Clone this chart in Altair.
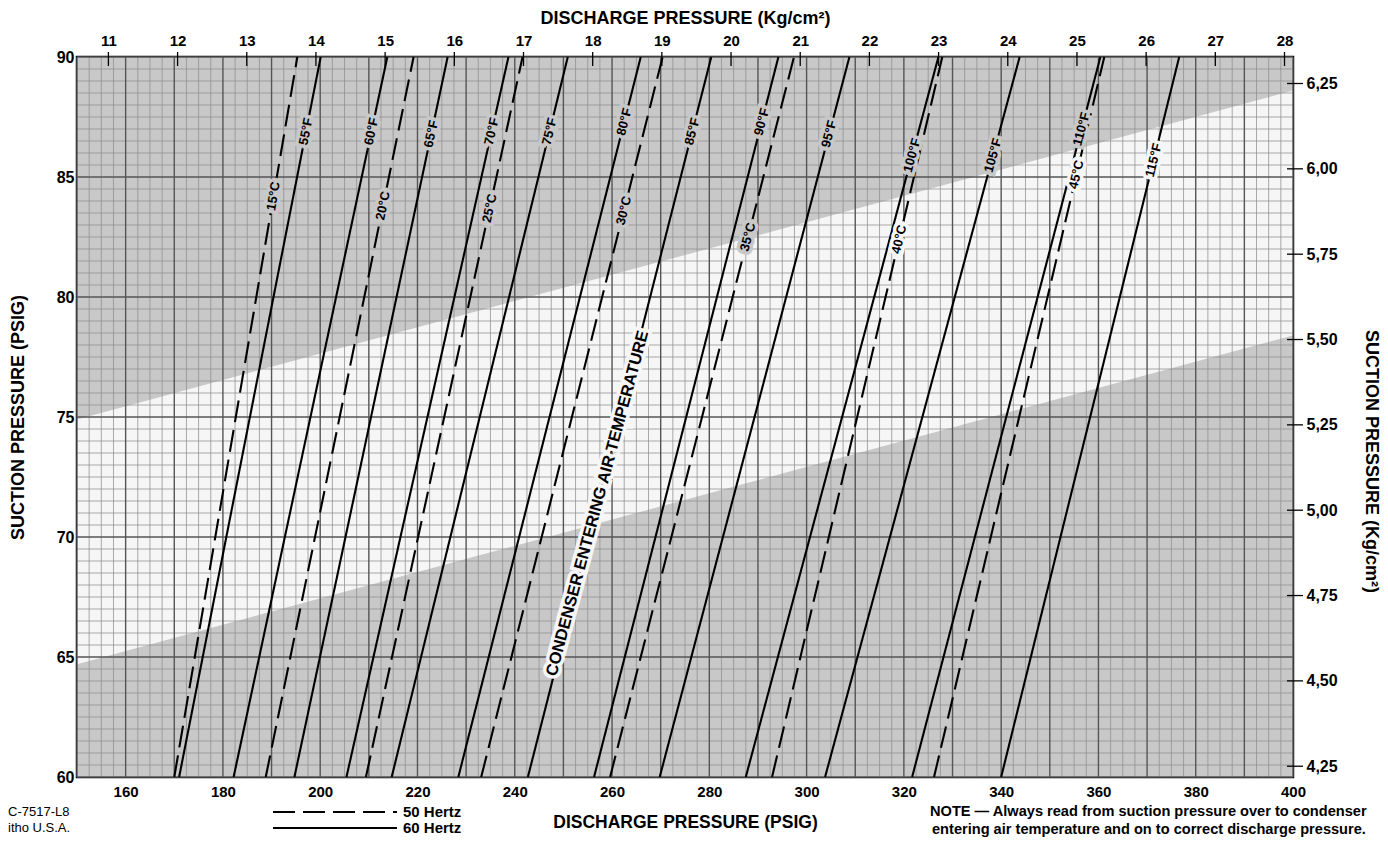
import math
import altair as alt
import numpy as np
import pandas as pd

# ---------------- data ----------------
LINE_NAMES = ["15°C", "55°F", "60°F", "20°C", "65°F", "70°F", "25°C", "75°F", "80°F", "30°C",
              "85°F", "90°F", "35°C", "95°F", "100°F", "40°C", "105°F", "110°F", "45°C", "115°F"]
LINE_HERTZ = ["50 Hertz", "60 Hertz", "60 Hertz", "50 Hertz", "60 Hertz", "60 Hertz", "50 Hertz",
              "60 Hertz", "60 Hertz", "50 Hertz", "60 Hertz", "60 Hertz", "50 Hertz", "60 Hertz",
              "60 Hertz", "50 Hertz", "60 Hertz", "60 Hertz", "50 Hertz", "60 Hertz"]
# discharge pressure (PSIG) where each line meets suction 60 and suction 90 PSIG
DISCHARGE_AT_60 = [170.0, 171.0, 182.2, 188.8, 194.7, 205.4, 209.4, 214.7, 228.4, 233.1,
                   242.7, 256.3, 259.6, 269.8, 287.5, 292.9, 303.8, 321.7, 326.2, 340.0]
DISCHARGE_AT_90 = [195.3, 200.1, 213.8, 219.2, 226.2, 238.7, 241.6, 250.9, 265.9, 270.4,
                   280.4, 294.2, 297.4, 308.8, 327.1, 327.9, 343.8, 360.4, 361.2, 376.6]
SUCTION_ENDS = [60, 90]
# suction level at which each line carries its label
LABEL_SUCTION = [84.2, 86.9, 86.9, 83.8, 86.8, 86.9, 83.7, 86.9, 87.3, 83.6,
                 86.9, 87.3, 82.5, 86.8, 85.9, 82.4, 85.9, 87.0, 85.1, 85.7]

CONDENSER_TEXT = "CONDENSER ENTERING AIR TEMPERATURE"
CONDENSER_AT = [257.0, 71.4]   # discharge, suction

# white (unshaded) diagonal band
BAND_DISCHARGE = [150, 400]
BAND_LOWER = [64.7, 78.4]
BAND_UPPER = [74.9, 88.6]

X_DOMAIN = [150, 400]
Y_DOMAIN = [60, 90]
X_LABELS = list(range(160, 401, 20))
Y_LABELS = list(range(60, 91, 5))
KG_TOP = list(range(11, 29))
KG_RIGHT = [4.25, 4.50, 4.75, 5.00, 5.25, 5.50, 5.75, 6.00, 6.25]
PSI_PER_KG = 14.2233

# ---------------- layout / style ----------------
W, H = 1216, 720
PX_X = W / (X_DOMAIN[1] - X_DOMAIN[0])
PX_Y = H / (Y_DOMAIN[1] - Y_DOMAIN[0])
GRAY = "#c8c8c8"
WHITE = "#f6f6f6"
FONT = "Liberation Sans"
DASH = [22, 8]

xs = alt.Scale(domain=X_DOMAIN, nice=False, zero=False)
ys = alt.Scale(domain=Y_DOMAIN, nice=False, zero=False)

# ---------------- tables ----------------
bg_df = pd.DataFrame({"x0": [X_DOMAIN[0]], "x1": [X_DOMAIN[1]],
                      "y0": [Y_DOMAIN[0]], "y1": [Y_DOMAIN[1]]})
band_df = pd.DataFrame({"x": BAND_DISCHARGE, "lo": BAND_LOWER, "hi": BAND_UPPER})

rows = []
for name, hz, d0, d1 in zip(LINE_NAMES, LINE_HERTZ, DISCHARGE_AT_60, DISCHARGE_AT_90):
    rows.append({"name": name, "hz": hz, "suction": SUCTION_ENDS[0], "discharge": d0})
    rows.append({"name": name, "hz": hz, "suction": SUCTION_ENDS[1], "discharge": d1})
lines_df = pd.DataFrame(rows)


def band_edge(edge, x):
    return np.interp(x, BAND_DISCHARGE, edge)


lab_rows = []
for name, d0, d1, s in zip(LINE_NAMES, DISCHARGE_AT_60, DISCHARGE_AT_90, LABEL_SUCTION):
    t = (s - SUCTION_ENDS[0]) / (SUCTION_ENDS[1] - SUCTION_ENDS[0])
    d = d0 + (d1 - d0) * t
    ang = -math.degrees(math.atan2(H, (d1 - d0) * PX_X)) + 360
    in_band = band_edge(BAND_LOWER, d) < s < band_edge(BAND_UPPER, d)
    lab_rows.append({"name": name, "discharge": d, "suction": s, "angle": ang,
                     "halo": WHITE if in_band else GRAY})
labels_df = pd.DataFrame(lab_rows)
cond_df = pd.DataFrame({"text": [CONDENSER_TEXT], "discharge": [CONDENSER_AT[0]],
                        "suction": [CONDENSER_AT[1]]})

vgrid = pd.DataFrame({"x": np.arange(X_DOMAIN[0], X_DOMAIN[1] + 0.01, 2.5)})
vgrid["major"] = (vgrid["x"] % 10 == 0)
hgrid = pd.DataFrame({"y": np.arange(Y_DOMAIN[0], Y_DOMAIN[1] + 0.01, 0.5)})
hgrid["major"] = (hgrid["y"] % 5 == 0)

top_df = pd.DataFrame({"kg": KG_TOP})
right_df = pd.DataFrame({"kg": KG_RIGHT})

# ---------------- layers ----------------
label_font = dict(font=FONT, fontWeight="bold")

background = alt.Chart(bg_df).mark_rect(color=GRAY).encode(
    x=alt.X("x0:Q", scale=xs, axis=alt.Axis(
        orient="bottom", values=X_LABELS, ticks=False, domain=False, grid=False,
        labelFontSize=15, labelPadding=7, labelFlush=False,
        title="DISCHARGE PRESSURE (PSIG)", titleFontSize=17.5, titleY=45,
        titleBaseline="middle")),
    x2="x1:Q",
    y=alt.Y("y0:Q", scale=ys, axis=alt.Axis(
        orient="left", values=Y_LABELS, ticks=False, domain=False, grid=False,
        labelFontSize=16, labelPadding=3, labelFlush=False,
        title="SUCTION PRESSURE (PSIG)", titleFontSize=18, titleX=-59,
        titleBaseline="middle")),
    y2="y1:Q",
)

band = alt.Chart(band_df).mark_area(color=WHITE, opacity=1).encode(
    x=alt.X("x:Q", scale=xs, axis=None),
    y=alt.Y("lo:Q", scale=ys, axis=None),
    y2="hi:Q",
)

vminor = alt.Chart(vgrid).transform_filter("!datum.major").mark_rule(
    color="#8e8e8e", strokeWidth=0.75).encode(x=alt.X("x:Q", scale=xs, axis=None))
vmajor = alt.Chart(vgrid).transform_filter("datum.major").mark_rule(
    color="#555555", strokeWidth=1.4).encode(x=alt.X("x:Q", scale=xs, axis=None))
hminor = alt.Chart(hgrid).transform_filter("!datum.major").mark_rule(
    color="#8e8e8e", strokeWidth=0.75).encode(y=alt.Y("y:Q", scale=ys, axis=None))
hmajor = alt.Chart(hgrid).transform_filter("datum.major").mark_rule(
    color="#555555", strokeWidth=1.4).encode(y=alt.Y("y:Q", scale=ys, axis=None))

curves = alt.Chart(lines_df).mark_line(color="black", strokeWidth=2.1).encode(
    x=alt.X("discharge:Q", scale=xs, axis=None),
    y=alt.Y("suction:Q", scale=ys, axis=None),
    detail="name:N",
    order="suction:Q",
    strokeDash=alt.StrokeDash("hz:N", scale=alt.Scale(domain=["50 Hertz", "60 Hertz"],
                                                      range=[DASH, [1, 0]]), legend=None),
)

halo = alt.Chart(labels_df).mark_text(fontSize=13, strokeWidth=7, **label_font).encode(
    x=alt.X("discharge:Q", scale=xs, axis=None),
    y=alt.Y("suction:Q", scale=ys, axis=None),
    text="name:N",
    angle=alt.Angle("angle:Q", scale=None),
    color=alt.Color("halo:N", scale=None),
    stroke=alt.Stroke("halo:N", scale=None),
)
temp_text = alt.Chart(labels_df).mark_text(fontSize=13, color="black", **label_font).encode(
    x=alt.X("discharge:Q", scale=xs, axis=None),
    y=alt.Y("suction:Q", scale=ys, axis=None),
    text="name:N",
    angle=alt.Angle("angle:Q", scale=None),
)

cond_halo = alt.Chart(cond_df).mark_text(fontSize=16.5, angle=285, strokeWidth=7,
                                         color=WHITE, stroke=WHITE, **label_font).encode(
    x=alt.X("discharge:Q", scale=xs, axis=None),
    y=alt.Y("suction:Q", scale=ys, axis=None),
    text="text:N",
)
cond_text = alt.Chart(cond_df).mark_text(fontSize=16.5, angle=285, color="black",
                                         **label_font).encode(
    x=alt.X("discharge:Q", scale=xs, axis=None),
    y=alt.Y("suction:Q", scale=ys, axis=None),
    text="text:N",
)

top_ticks = alt.Chart(top_df).transform_calculate(
    psi=f"datum.kg * {PSI_PER_KG}").mark_rule(color="black", strokeWidth=1.3).encode(
    x=alt.X("psi:Q", scale=xs, axis=alt.Axis(
        orient="top", values=[k * PSI_PER_KG for k in KG_TOP],
        labelExpr=f"format(datum.value / {PSI_PER_KG}, '.0f')",
        ticks=False, domain=False, grid=False, labelFontSize=15, labelPadding=9,
        labelFlush=False,
        title="DISCHARGE PRESSURE (Kg/cm²)", titleFontSize=18, titleY=-39,
        titleBaseline="middle")),
    y=alt.value(-5), y2=alt.value(9),
)

right_ticks = alt.Chart(right_df).transform_calculate(
    psi=f"datum.kg * {PSI_PER_KG}").mark_rule(color="black", strokeWidth=1.3).encode(
    y=alt.Y("psi:Q", scale=ys, axis=alt.Axis(
        orient="right", values=[k * PSI_PER_KG for k in KG_RIGHT],
        labelExpr=f"replace(format(datum.value / {PSI_PER_KG}, '.2f'), '.', ',')",
        ticks=False, domain=False, grid=False, labelFontSize=16, labelPadding=13,
        labelFlush=False,
        title="SUCTION PRESSURE (Kg/cm²)", titleFontSize=18, titleAngle=90,
        titleX=77, titleY=404, titleBaseline="middle")),
    x=alt.value(W - 6), x2=alt.value(W + 10),
)

# ---------------- annotations below the plot ----------------
one = pd.DataFrame({"k": [0]})


def note(text, x, y, size, weight="bold", align="left"):
    return alt.Chart(one).mark_text(text=text, font=FONT, fontSize=size, fontWeight=weight,
                                    align=align, baseline="middle", color="black").encode(
        x=alt.value(x), y=alt.value(y))


leg_dash = alt.Chart(one).mark_rule(color="black", strokeWidth=2, strokeDash=DASH).encode(
    x=alt.value(196), x2=alt.value(320), y=alt.value(755))
leg_solid = alt.Chart(one).mark_rule(color="black", strokeWidth=2).encode(
    x=alt.value(196), x2=alt.value(320), y=alt.value(771))

notes = [
    note("50 Hertz", 326, 755, 15),
    note("60 Hertz", 326, 771, 15),
    note("C-7517-L8", -69, 755, 13, weight="normal"),
    note("itho U.S.A.", -69, 771, 13, weight="normal"),
    note("NOTE — Always read from suction pressure over to condenser", 853, 755, 14.6),
    note("entering air temperature and on to correct discharge pressure.", 855, 773, 14.6),
]

chart = alt.layer(
    background, band, vminor, hminor, vmajor, hmajor, curves,
    halo, temp_text, cond_halo, cond_text, top_ticks, right_ticks,
    leg_dash, leg_solid, *notes,
).resolve_axis(x="independent", y="independent").properties(
    width=W, height=H,
    padding={"left": 69, "top": 49, "right": 87, "bottom": 64},
    autosize=alt.AutoSizeParams(type="none"),
).configure_view(stroke="black", strokeWidth=2.5).configure_axis(
    labelFont=FONT, labelFontWeight="bold", labelColor="black",
    titleFont=FONT, titleFontWeight="bold", titleColor="black",
)

chart.save("out.html", embed_options={"renderer": "svg", "actions": False})
